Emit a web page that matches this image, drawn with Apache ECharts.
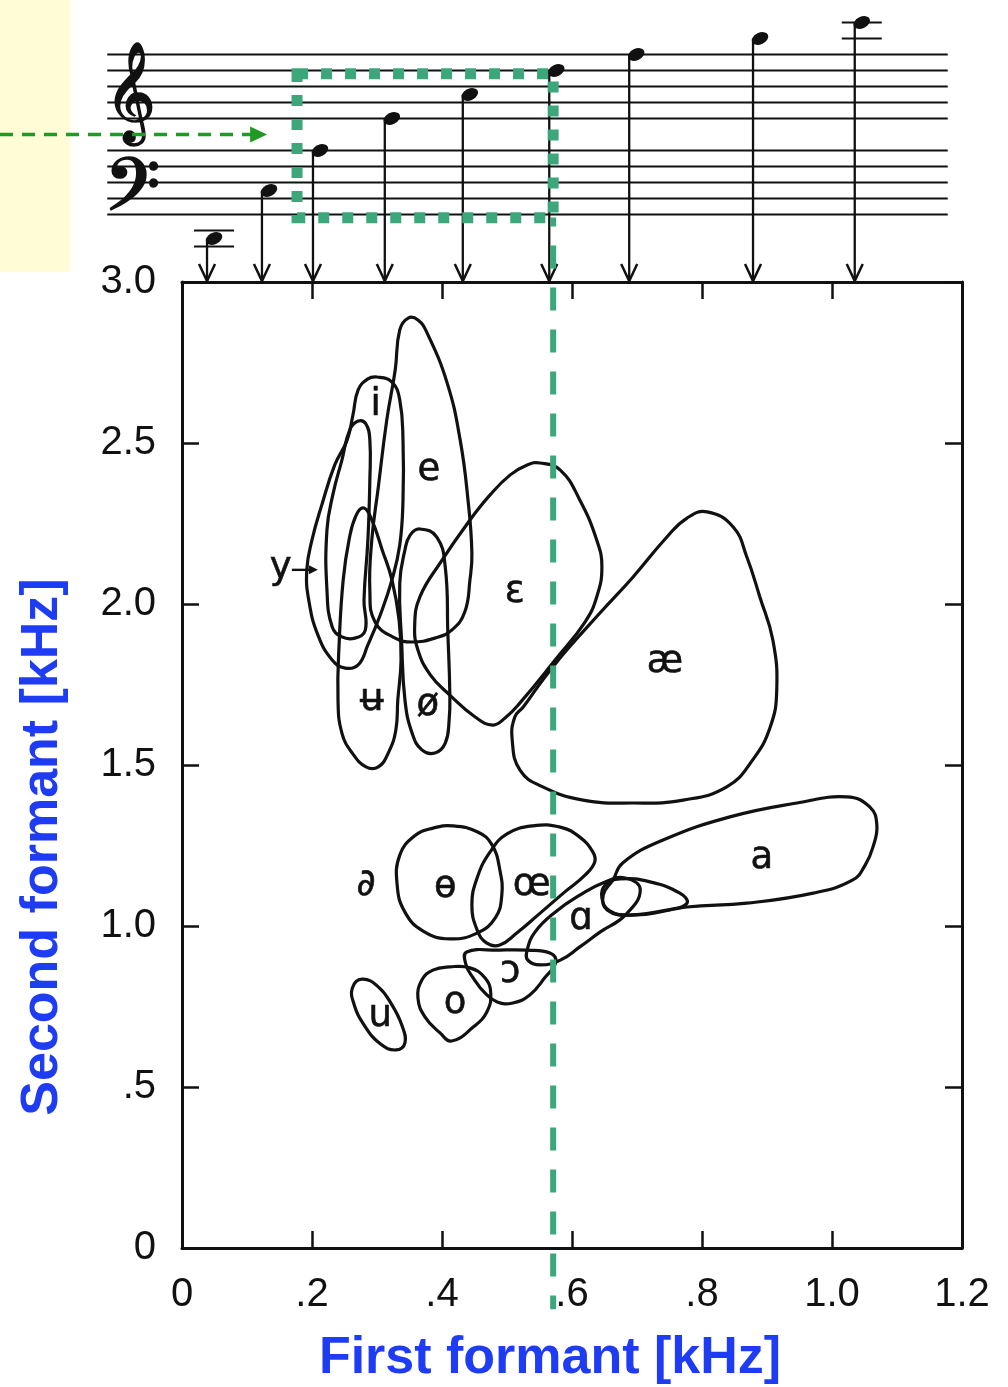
<!DOCTYPE html>
<html>
<head>
<meta charset="utf-8">
<script src="https://cdn.jsdelivr.net/npm/echarts@6/dist/echarts.min.js"></script>
<style>
  html, body { margin: 0; padding: 0; background: #ffffff; }
  #chart { width: 1008px; height: 1387px; }
</style>
</head>
<body>
<div id="chart"></div>
<script>
// ---- Axis tick labels ----
const xTickLabels = ['0', '.2', '.4', '.6', '.8', '1.0', '1.2'];
const yTickLabels = ['0', '.5', '1.0', '1.5', '2.0', '2.5', '3.0'];

// ---- Vowel areas: outline points as [F1 kHz, F2 kHz] ----
const vowelI = [[0.300,2.705],[0.323,2.689],[0.335,2.634],[0.340,2.509],[0.340,2.323],[0.335,2.183],[0.323,2.075],[0.305,1.966],[0.286,1.873],[0.271,1.811],[0.251,1.801],[0.231,1.826],[0.209,1.904],[0.195,2.012],[0.192,2.106],[0.200,2.199],[0.215,2.307],[0.235,2.432],[0.254,2.509],[0.263,2.587],[0.271,2.665],[0.286,2.699]];
const vowelY = [[0.271,2.568],[0.283,2.559],[0.289,2.509],[0.289,2.385],[0.286,2.199],[0.280,2.012],[0.282,1.919],[0.266,1.894],[0.246,1.898],[0.231,1.929],[0.223,2.043],[0.223,2.230],[0.232,2.339],[0.246,2.447],[0.258,2.540]];
const vowelE = [[0.348,2.888],[0.335,2.851],[0.328,2.727],[0.315,2.571],[0.302,2.363],[0.292,2.199],[0.289,2.043],[0.297,1.944],[0.328,1.894],[0.354,1.882],[0.389,1.894],[0.415,1.919],[0.435,1.975],[0.443,2.075],[0.446,2.158],[0.440,2.323],[0.428,2.509],[0.408,2.686],[0.377,2.842],[0.363,2.882]];
const vowelUBar = [[0.280,2.298],[0.292,2.261],[0.308,2.168],[0.323,2.075],[0.334,1.950],[0.337,1.826],[0.332,1.702],[0.329,1.609],[0.318,1.540],[0.302,1.494],[0.283,1.494],[0.262,1.537],[0.246,1.599],[0.240,1.702],[0.242,1.888],[0.248,2.075],[0.257,2.199],[0.268,2.276]];
const vowelOSlash = [[0.366,2.233],[0.392,2.208],[0.405,2.115],[0.409,1.910],[0.412,1.724],[0.411,1.640],[0.405,1.568],[0.389,1.537],[0.369,1.547],[0.354,1.599],[0.343,1.702],[0.338,1.879],[0.335,2.065],[0.343,2.168],[0.351,2.214]];
const vowelEpsilon = [[0.551,2.438],[0.582,2.416],[0.612,2.323],[0.638,2.199],[0.646,2.115],[0.638,2.022],[0.620,1.944],[0.574,1.826],[0.520,1.693],[0.497,1.646],[0.478,1.624],[0.451,1.649],[0.412,1.717],[0.382,1.780],[0.363,1.857],[0.358,1.935],[0.366,2.022],[0.397,2.127],[0.443,2.261],[0.474,2.339],[0.505,2.401],[0.531,2.432]];
const vowelAe = [[0.808,2.286],[0.848,2.239],[0.869,2.146],[0.889,2.022],[0.909,1.888],[0.915,1.733],[0.905,1.618],[0.878,1.516],[0.838,1.432],[0.771,1.391],[0.694,1.382],[0.617,1.391],[0.555,1.432],[0.520,1.484],[0.508,1.578],[0.512,1.649],[0.525,1.680],[0.555,1.764],[0.592,1.857],[0.643,1.972],[0.694,2.084],[0.746,2.208],[0.777,2.267]];
const vowelBarredO = [[0.417,1.311],[0.455,1.292],[0.477,1.252],[0.489,1.174],[0.492,1.096],[0.482,1.025],[0.454,0.978],[0.412,0.960],[0.371,0.984],[0.343,1.043],[0.331,1.127],[0.335,1.220],[0.358,1.280],[0.386,1.304]];
const vowelOe = [[0.540,1.311],[0.582,1.307],[0.612,1.276],[0.632,1.230],[0.635,1.199],[0.620,1.158],[0.589,1.106],[0.551,1.040],[0.515,0.978],[0.489,0.941],[0.469,0.947],[0.454,0.988],[0.446,1.065],[0.454,1.149],[0.474,1.230],[0.500,1.286]];
const vowelA = [[0.663,1.143],[0.678,1.196],[0.740,1.267],[0.843,1.339],[0.946,1.382],[1.023,1.401],[1.058,1.370],[1.069,1.314],[1.063,1.245],[1.051,1.189],[1.032,1.143],[0.971,1.102],[0.869,1.071],[0.777,1.059],[0.689,1.034],[0.654,1.050],[0.648,1.096]];
const vowelAOval = [[0.651,1.127],[0.674,1.146],[0.720,1.137],[0.766,1.102],[0.777,1.071],[0.751,1.050],[0.689,1.034],[0.658,1.047],[0.646,1.087]];
const vowelScriptA = [[0.531,0.925],[0.543,0.981],[0.574,1.043],[0.612,1.096],[0.651,1.137],[0.682,1.149],[0.705,1.112],[0.682,1.034],[0.643,0.981],[0.612,0.935],[0.582,0.894],[0.551,0.879],[0.532,0.894]];
const vowelOpenO = [[0.438,0.919],[0.489,0.925],[0.531,0.925],[0.566,0.916],[0.575,0.888],[0.558,0.839],[0.535,0.786],[0.509,0.761],[0.485,0.764],[0.466,0.792],[0.448,0.839],[0.437,0.879]];
const vowelO = [[0.412,0.873],[0.443,0.870],[0.466,0.839],[0.475,0.792],[0.469,0.733],[0.448,0.686],[0.415,0.643],[0.397,0.668],[0.374,0.717],[0.363,0.776],[0.369,0.832],[0.386,0.863]];
const vowelU = [[0.277,0.835],[0.302,0.811],[0.323,0.755],[0.338,0.693],[0.343,0.637],[0.329,0.615],[0.305,0.634],[0.280,0.693],[0.265,0.755],[0.262,0.807]];

// ---- Vowel symbols and where they sit (kHz) ----
const vowelSymbols = ['i', 'e', 'y', 'ɛ', 'æ', 'ʉ', 'ø', '∂', 'ɵ', 'œ', 'a', 'ɑ', 'ɔ', 'o', 'u'];
const symbolF1 = [0.298, 0.380, 0.152, 0.512, 0.743, 0.292, 0.378, 0.283, 0.405, 0.538, 0.892, 0.614, 0.505, 0.420, 0.305];
const symbolF2 = [2.618, 2.416, 2.112, 2.037, 1.820, 1.702, 1.686, 1.127, 1.121, 1.127, 1.211, 1.019, 0.857, 0.761, 0.720];

// pointer from "y" to its area
const yPointerF1 = [0.169, 0.209];
const yPointerF2 = 2.106;

// ---- Sung pitches: fundamental frequency (kHz) and staff step (0 = middle C) ----
const noteF1 = [0.0385, 0.123, 0.2015, 0.312, 0.432, 0.565, 0.688, 0.8785, 1.035];
const noteStep = [-13, -7, -2, 2, 5, 8, 10, 12, 14];
const noteLedgers = [[-12, -14], [], [], [], [], [], [], [], [12, 14]];
const staffSteps = [2, 4, 6, 8, 10, -2, -4, -6, -8, -10];

// ---- Highlighted range ----
const guideF1 = 0.571;
const guideF2 = [3.2, -0.19];
const boxF1 = [0.177, 0.571];
const boxSteps = [7.6, -10.4];

// staff coordinate frame
const staffMin = -18.4375, staffMax = 16.8125;
const staffFromF1 = -0.115, staffToF1 = 1.178;
const panelF1 = [-0.28, -0.172];
const panelSteps = [staffMax, -17.19];
const pointerF1 = [-0.28, 0.131];

const vowelAreas = [vowelI, vowelY, vowelE, vowelUBar, vowelOSlash, vowelEpsilon, vowelAe,
  vowelBarredO, vowelOe, vowelA, vowelAOval, vowelScriptA, vowelOpenO, vowelO, vowelU];

const INK = '#111111';
const GREEN = '#3ba77a';
const BLUE = '#1f3cf5';

const chart = echarts.init(document.getElementById('chart'), null, { renderer: 'canvas' });

function seg(a, b, style) {
  return { type: 'line', shape: { x1: a[0], y1: a[1], x2: b[0], y2: b[1] }, style: style };
}

function frameAxis(extra) {
  return Object.assign({
    type: 'value',
    axisLine: { show: true, onZero: false, lineStyle: { color: INK, width: 3 } },
    axisTick: { show: true, inside: true, length: 17, lineStyle: { color: INK, width: 2.5 } },
    splitLine: { show: false }
  }, extra);
}

const option = {
  animation: false,
  backgroundColor: '#ffffff',
  grid: [
    { left: 182, right: 46, top: 282, bottom: 139, outerBoundsMode: 'none' },
    { left: 0, right: 46, top: 0, height: 282, outerBoundsMode: 'none' }
  ],
  xAxis: [
    frameAxis({
      gridIndex: 0, min: 0, max: 1.2, interval: 0.2, position: 'bottom',
      axisLabel: {
        show: true, margin: 27, color: INK, fontSize: 40, fontFamily: 'Liberation Sans',
        formatter: v => xTickLabels[Math.round(v / 0.2)]
      }
    }),
    frameAxis({
      gridIndex: 0, min: 0, max: 1.2, interval: 0.2, position: 'top',
      axisLabel: { show: false }
    }),
    { gridIndex: 1, type: 'value', min: panelF1[0], max: 1.2, show: false }
  ],
  yAxis: [
    frameAxis({
      gridIndex: 0, min: 0, max: 3, interval: 0.5, position: 'left',
      axisLabel: {
        show: true, margin: 26, color: INK, fontSize: 40, fontFamily: 'Liberation Sans',
        padding: [6, 0, 0, 0],
        formatter: v => yTickLabels[Math.round(v / 0.5)]
      }
    }),
    frameAxis({
      gridIndex: 0, min: 0, max: 3, interval: 0.5, position: 'right',
      axisLabel: { show: false }
    }),
    { gridIndex: 1, type: 'value', min: staffMin, max: staffMax, show: false }
  ],
  graphic: [
    {
      type: 'text', x: 43, y: 847, rotation: Math.PI / 2, z: 50,
      style: { text: 'Second formant [kHz]', fontSize: 52, fontWeight: 'bold', fontFamily: 'Liberation Sans',
        fill: BLUE, align: 'center', verticalAlign: 'middle' }
    },
    {
      type: 'text', x: 550, y: 1359, z: 50,
      style: { text: 'First formant [kHz]', fontSize: 52, fontWeight: 'bold', fontFamily: 'Liberation Sans',
        fill: BLUE, align: 'center', verticalAlign: 'middle' }
    }
  ],
  series: [
    // pale panel at the far left
    {
      type: 'custom', xAxisIndex: 2, yAxisIndex: 2, silent: true, z: 0,
      data: [[panelF1[0], panelSteps[0]]],
      renderItem: (params, api) => {
        const a = api.coord([panelF1[0], panelSteps[0]]);
        const b = api.coord([panelF1[1], panelSteps[1]]);
        return { type: 'rect', shape: { x: a[0], y: a[1], width: b[0] - a[0], height: b[1] - a[1] },
          style: { fill: '#fffcd6' } };
      }
    },
    // staff lines
    {
      type: 'custom', xAxisIndex: 2, yAxisIndex: 2, silent: true, z: 2,
      data: staffSteps.map(s => [staffFromF1, s]),
      renderItem: (params, api) => {
        const s = api.value(1);
        return seg(api.coord([staffFromF1, s]), api.coord([staffToF1, s]), { stroke: INK, lineWidth: 2.2 });
      }
    },
    // clefs
    {
      type: 'custom', xAxisIndex: 2, yAxisIndex: 2, silent: true, z: 3,
      data: [[-0.079, 4.5, 0], [-0.076, -8.3, 1]],
      renderItem: (params, api) => {
        const p = api.coord([api.value(0), api.value(1)]);
        const treble = api.value(2) === 0;
        return { type: 'text', x: p[0], y: p[1],
          style: { text: treble ? '\u{1D11E}' : '\u{1D122}', fontSize: treble ? 86 : 88,
            fontFamily: 'DejaVu Sans', fill: INK, stroke: INK, lineWidth: 1.6,
            align: 'center', verticalAlign: 'middle' } };
      }
    },
    // notes with arrows to the F1 axis
    {
      type: 'custom', xAxisIndex: 2, yAxisIndex: 2, silent: true, z: 4,
      data: noteF1.map((f, i) => [f, noteStep[i], i]),
      renderItem: (params, api) => {
        const f = api.value(0), s = api.value(1), idx = api.value(2);
        const h = api.coord([f, s]);
        const foot = api.coord([f, staffMin]);
        const hx = h[0] + 7;
        const ink = { stroke: INK, lineWidth: 2.3 };
        const children = [
          seg([h[0], h[1]], [h[0], foot[1] - 1], ink),
          { type: 'polyline', shape: { points: [[h[0] - 8, foot[1] - 18], [h[0], foot[1] - 1], [h[0] + 8, foot[1] - 18]] },
            style: { stroke: INK, lineWidth: 2.5, fill: null } },
          { type: 'circle', x: hx, y: h[1], scaleX: 1.35, scaleY: 0.88, rotation: 0.45,
            shape: { cx: 0, cy: 0, r: 6.5 }, style: { fill: INK } }
        ];
        noteLedgers[idx].forEach(ls => {
          const y = api.coord([f, ls])[1];
          children.push(seg([hx - 20, y], [hx + 20, y], { stroke: INK, lineWidth: 2.2 }));
        });
        return { type: 'group', children: children };
      }
    },
    // dotted range box on the staff
    {
      type: 'custom', xAxisIndex: 2, yAxisIndex: 2, silent: true, z: 8,
      data: [[boxF1[0], boxSteps[0]]],
      renderItem: (params, api) => {
        const a = api.coord([boxF1[0], boxSteps[0]]);
        const b = api.coord([boxF1[1], boxSteps[1]]);
        return { type: 'rect', shape: { x: a[0], y: a[1], width: b[0] - a[0], height: b[1] - a[1] },
          style: { fill: null, stroke: GREEN, lineWidth: 11, lineDash: [11, 13], lineCap: 'butt' } };
      }
    },
    // dashed pointer at middle C
    {
      type: 'custom', xAxisIndex: 2, yAxisIndex: 2, silent: true, z: 8,
      data: [[pointerF1[0], 0]],
      renderItem: (params, api) => {
        const a = api.coord([pointerF1[0], 0]);
        const b = api.coord([pointerF1[1], 0]);
        return { type: 'group', children: [
          seg(a, [b[0] - 14, b[1]], { stroke: '#1f9a22', lineWidth: 3.5, lineDash: [13, 9] }),
          { type: 'polygon', shape: { points: [[b[0], b[1]], [b[0] - 17, b[1] - 8], [b[0] - 17, b[1] + 8]] },
            style: { fill: '#1f9a22' } }
        ] };
      }
    },
    // vowel areas
    {
      type: 'custom', xAxisIndex: 0, yAxisIndex: 0, silent: true, z: 5,
      data: vowelAreas.map((a, i) => [a[0][0], a[0][1], i]),
      renderItem: (params, api) => {
        const pts = vowelAreas[api.value(2)].map(p => api.coord(p));
        return { type: 'polygon', shape: { points: pts, smooth: 0.45 },
          style: { fill: null, stroke: INK, lineWidth: 3.2 } };
      }
    },
    // vowel symbols
    {
      type: 'custom', xAxisIndex: 0, yAxisIndex: 0, silent: true, z: 6,
      data: vowelSymbols.map((s, i) => [symbolF1[i], symbolF2[i], i]),
      renderItem: (params, api) => {
        const p = api.coord([api.value(0), api.value(1)]);
        return { type: 'text', x: p[0], y: p[1],
          style: { text: vowelSymbols[api.value(2)], fontSize: 37, fontFamily: 'DejaVu Sans',
            fill: INK, stroke: INK, lineWidth: 0.6, align: 'center', verticalAlign: 'middle' } };
      }
    },
    // pointer from "y"
    {
      type: 'custom', xAxisIndex: 0, yAxisIndex: 0, silent: true, z: 6,
      data: [[yPointerF1[0], yPointerF2]],
      renderItem: (params, api) => {
        const a = api.coord([yPointerF1[0], yPointerF2]);
        const b = api.coord([yPointerF1[1], yPointerF2]);
        return { type: 'group', children: [
          seg(a, [b[0] - 6, b[1]], { stroke: INK, lineWidth: 2.4 }),
          { type: 'polygon', shape: { points: [[b[0], b[1]], [b[0] - 9, b[1] - 4.5], [b[0] - 9, b[1] + 4.5]] },
            style: { fill: INK } }
        ] };
      }
    },
    // vertical guide at the top of the range
    {
      type: 'custom', xAxisIndex: 0, yAxisIndex: 0, silent: true, z: 9,
      data: [[guideF1, guideF2[0]]],
      renderItem: (params, api) => {
        const a = api.coord([guideF1, guideF2[0]]);
        const b = api.coord([guideF1, guideF2[1]]);
        return seg(a, b, { stroke: GREEN, lineWidth: 6, lineDash: [23, 19], lineDashOffset: 14 });
      }
    }
  ]
};

chart.setOption(option);
</script>
</body>
</html>
